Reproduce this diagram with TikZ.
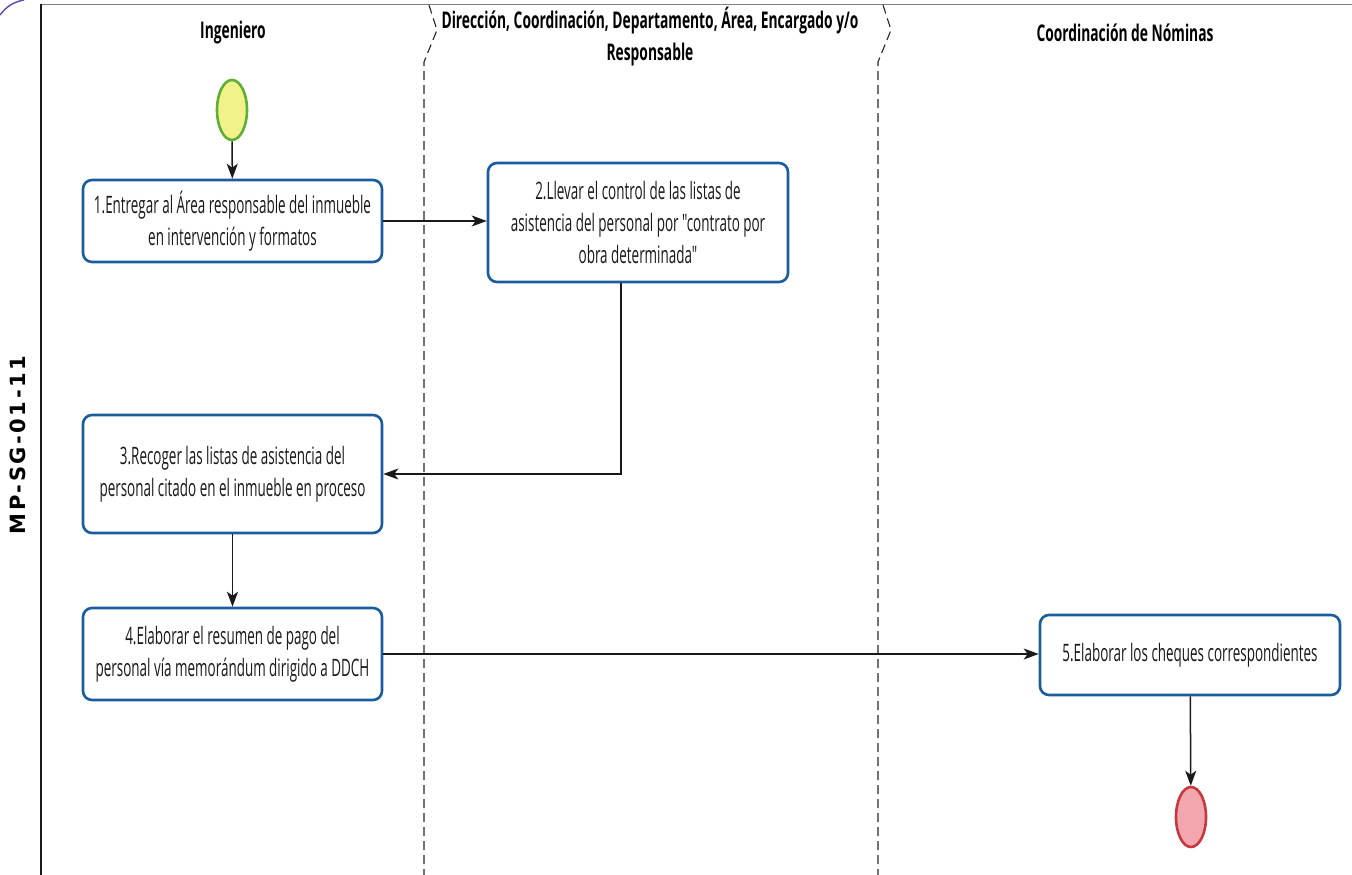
\documentclass[tikz,border=0pt]{standalone}
\usepackage{fontspec}
\usetikzlibrary{arrows.meta,shapes.geometric}
\newfontfamily\lanefont[FakeStretch=0.56]{Open Sans}
\newfontfamily\headfont[FakeStretch=0.6]{Open Sans}
\newfontfamily\codefont[LetterSpace=12]{DejaVu Sans}
\definecolor{boxblue}{HTML}{1B5C9E}
\definecolor{startfill}{HTML}{F2F28A}
\definecolor{startline}{HTML}{5FAE35}
\definecolor{endfill}{HTML}{F2A6AE}
\definecolor{endline}{HTML}{C7383F}
\definecolor{stampink}{HTML}{6A4FB0}
\begin{document}
\begin{tikzpicture}[x=1pt,y=-1pt,
  task/.style={draw=boxblue, line width=2.6pt, rounded corners=9pt, fill=white,
    align=center, inner sep=0pt, text=black!90,
    font=\lanefont\fontsize{24}{32}\selectfont},
  head/.style={align=center, inner sep=0pt, text=black,
    font=\headfont\bfseries\fontsize{23}{32}\selectfont},
  terminal/.style={ellipse, line width=2.6pt, minimum width=30pt, minimum height=60pt, inner sep=0pt},
  arr/.style={line width=1.5pt, black!90, -{Stealth[length=15pt,width=11pt,inset=4pt]}},
  lane/.style={line width=1.1pt, black!85, dash pattern=on 9pt off 5pt}]
\useasboundingbox (0,0) rectangle (1352,875);

% frame of the lanes
\draw[line width=0.9pt, black!50] (41,4) -- (1352,4);
\draw[line width=1.4pt, black!90] (41,4) -- (41,875);
\draw[lane] (429,5) -- (437,30) -- (424,62) -- (424,875);
\draw[lane] (883,5) -- (891,30) -- (878,62) -- (878,875);
\draw[line width=1.5pt, stampink] (0,15) .. controls (6,7) and (13,2) .. (24,0);

% document code on the margin
\node[rotate=90, inner sep=0pt] (code) at (18,445)
  {\codefont\bfseries\fontsize{21}{21}\selectfont MP-SG-01-11};

% lane headers
\node[head] (h1) at (233,33) {Ingeniero};
\node[head] (h2) at (650,37) {Dirección, Coordinación, Departamento, Área, Encargado y/o\\Responsable};
\node[head] (h3) at (1125,33) {Coordinación de Nóminas};

% terminals
\node[terminal, draw=startline, fill=startfill] (start) at (232,110) {};
\node[terminal, draw=endline, fill=endfill] (stop) at (1191,817) {};

% activities
\node[task, minimum width=299pt, minimum height=82pt] (t1) at (232.5,221)
  {1.Entregar al Área responsable del inmueble\\en intervención y formatos};
\node[task, minimum width=300pt, minimum height=119pt] (t2) at (638,222.5)
  {2.Llevar el control de las listas de\\asistencia del personal por "contrato por\\obra determinada"};
\node[task, minimum width=299pt, minimum height=118pt] (t3) at (232.5,474)
  {3.Recoger las listas de asistencia del\\personal citado en el inmueble en proceso};
\node[task, minimum width=299pt, minimum height=92pt] (t4) at (232.5,654)
  {4.Elaborar el resumen de pago del\\personal vía memorándum dirigido a DDCH};
\node[task, minimum width=300pt, minimum height=80pt] (t5) at (1190,655)
  {5.Elaborar los cheques correspondientes};

% flow
\draw[arr] (start) -- (t1);
\draw[arr] (t1.east) -- (t2.west |- t1.east);
\draw[arr] ([xshift=-17pt]t2.south) |- (t3.east);
\draw[arr] (t3) -- (t4);
\draw[arr] (t4.east) -- (t5.west |- t4.east);
\draw[arr] (t5) -- (stop);
\end{tikzpicture}
\end{document}
